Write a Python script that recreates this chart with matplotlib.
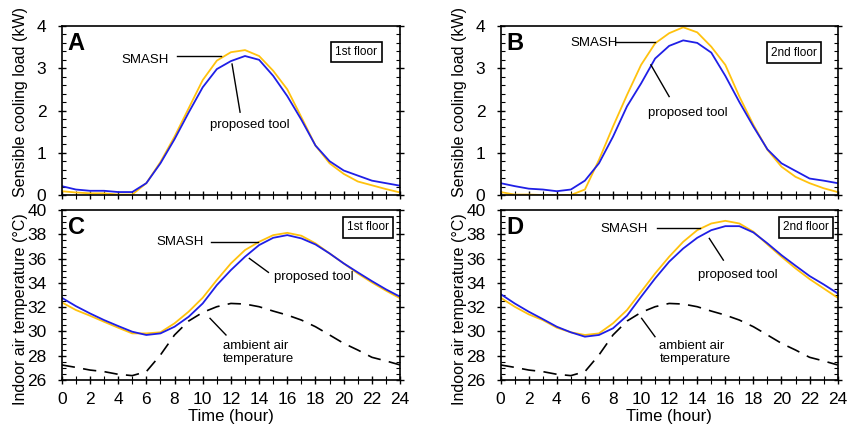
import numpy as np
import matplotlib
matplotlib.use('Agg')
from matplotlib import pyplot as plt
from matplotlib.ticker import MultipleLocator

plt.rcParams['font.family'] = ['Liberation Sans', 'DejaVu Sans']

#-----------------------------------
# Data
hours = np.arange(0, 25)

# Sensible cooling load (kW), 1st floor
load_1st_tool = [0.21, 0.13, 0.10, 0.10, 0.07, 0.07, 0.28, 0.75, 1.32, 1.95, 2.55, 2.98, 3.17,
                 3.29, 3.20, 2.82, 2.34, 1.78, 1.17, 0.80, 0.58, 0.46, 0.34, 0.28, 0.22]
load_1st_smash = [0.09, 0.06, 0.04, 0.04, 0.01, 0.01, 0.28, 0.78, 1.38, 2.05, 2.72, 3.18, 3.38,
                  3.43, 3.29, 2.94, 2.50, 1.84, 1.17, 0.75, 0.50, 0.32, 0.23, 0.14, 0.06]
# Sensible cooling load (kW), 2nd floor
load_2nd_tool = [0.28, 0.21, 0.15, 0.13, 0.09, 0.13, 0.34, 0.75, 1.38, 2.10, 2.64, 3.23, 3.53,
                 3.66, 3.60, 3.37, 2.82, 2.20, 1.62, 1.08, 0.75, 0.57, 0.39, 0.34, 0.28]
load_2nd_smash = [0.07, 0.01, 0.01, 0.00, 0.00, 0.00, 0.13, 0.83, 1.62, 2.37, 3.08, 3.59, 3.83,
                  3.97, 3.85, 3.51, 3.08, 2.33, 1.66, 1.07, 0.67, 0.43, 0.28, 0.16, 0.07]

# Indoor air temperature (C)
temp_1st_tool = [32.78, 32.09, 31.49, 30.94, 30.45, 29.98, 29.71, 29.84, 30.39, 31.21, 32.31,
                 33.82, 35.06, 36.16, 37.12, 37.72, 37.94, 37.67, 37.17, 36.43, 35.61, 34.87,
                 34.15, 33.47, 32.86]
temp_1st_smash = [32.40, 31.77, 31.30, 30.80, 30.31, 29.84, 29.84, 29.93, 30.67, 31.63, 32.78,
                  34.24, 35.61, 36.71, 37.39, 37.94, 38.13, 37.89, 37.26, 36.43, 35.61, 34.78,
                  34.04, 33.36, 32.73]
temp_2nd_tool = [33.08, 32.31, 31.63, 31.02, 30.39, 29.93, 29.57, 29.71, 30.26, 31.30, 32.86,
                 34.37, 35.75, 36.84, 37.72, 38.35, 38.68, 38.68, 38.16, 37.26, 36.29, 35.42,
                 34.57, 33.88, 33.14]
temp_2nd_smash = [32.78, 32.04, 31.41, 30.94, 30.31, 29.93, 29.71, 29.84, 30.67, 31.77, 33.27,
                  34.78, 36.16, 37.39, 38.35, 38.90, 39.12, 38.90, 38.22, 37.17, 36.16, 35.20,
                  34.32, 33.55, 32.78]
temp_ambient = [27.24, 27.04, 26.82, 26.69, 26.47, 26.36, 26.69, 28.06, 29.71, 30.86, 31.57,
                32.04, 32.31, 32.26, 32.04, 31.68, 31.35, 30.94, 30.39, 29.71, 29.02, 28.47,
                27.87, 27.57, 27.24]

BLUE = '#1f1fe6'
YELLOW = '#ffc20e'


def style_axis(ax, ylim, ymajor, yminor, show_xlabels):
    ax.set_xlim(0, 24)
    ax.set_ylim(*ylim)
    ax.xaxis.set_major_locator(MultipleLocator(2))
    ax.xaxis.set_minor_locator(MultipleLocator(1))
    ax.yaxis.set_major_locator(MultipleLocator(ymajor))
    ax.yaxis.set_minor_locator(MultipleLocator(yminor))
    ax.tick_params(which='major', direction='inout', length=6, width=1,
                   labelsize=12.5, right=True)
    ax.tick_params(which='minor', direction='in', length=3, width=0.8, right=True)
    ax.tick_params(axis='x', which='minor', direction='inout', length=6)
    ax.tick_params(axis='x', which='major', pad=6)
    ax.tick_params(axis='y', which='major', pad=8)
    if not show_xlabels:
        ax.tick_params(axis='x', labelbottom=False)
    for sp in ax.spines.values():
        sp.set_linewidth(1.2)


def floor_box(ax, text, x, y):
    ax.text(x, y, text, transform=ax.transAxes, ha='center', va='center', fontsize=8.5,
            bbox=dict(boxstyle='square,pad=0.35', fc='white', ec='black', lw=1.2))


def note(ax, text, xy_text, p0, p1, ha='left'):
    ax.text(xy_text[0], xy_text[1], text, ha=ha, va='center', fontsize=9.5, linespacing=1.15)
    ax.plot([p0[0], p1[0]], [p0[1], p1[1]], color='black', lw=1)


fig = plt.figure(figsize=(8.48, 4.30), dpi=100)
ax_a = fig.add_axes([0.0728, 0.5465, 0.399, 0.393])
ax_b = fig.add_axes([0.5904, 0.5465, 0.3974, 0.393])
ax_c = fig.add_axes([0.0728, 0.1163, 0.399, 0.395])
ax_d = fig.add_axes([0.5904, 0.1163, 0.3974, 0.395])

#-----------------------------------
# A: cooling load 1st floor
ax_a.plot(hours, load_1st_smash, color=YELLOW, lw=1.3)
ax_a.plot(hours, load_1st_tool, color=BLUE, lw=1.3)
style_axis(ax_a, (0, 4), 1, 0.2, False)
ax_a.set_ylabel('Sensible cooling load (kW)', fontsize=11.5)
note(ax_a, 'SMASH', (4.25, 3.20), (8.18, 3.30), (11.3, 3.30))
note(ax_a, 'proposed tool', (10.5, 1.66), (12.08, 3.10), (12.65, 1.96))
floor_box(ax_a, '1st floor', 0.871, 0.846)

# B: cooling load 2nd floor
ax_b.plot(hours, load_2nd_smash, color=YELLOW, lw=1.3)
ax_b.plot(hours, load_2nd_tool, color=BLUE, lw=1.3)
style_axis(ax_b, (0, 4), 1, 0.2, False)
ax_b.set_ylabel('Sensible cooling load (kW)', fontsize=11.5)
note(ax_b, 'SMASH', (4.94, 3.59), (8.19, 3.61), (10.99, 3.61))
note(ax_b, 'proposed tool', (10.51, 1.95), (10.7, 3.08), (12.0, 2.33))
floor_box(ax_b, '2nd floor', 0.870, 0.843)

# C: indoor temperature 1st floor
ax_c.plot(hours, temp_ambient, color='black', lw=1.2, dashes=(8, 5))
ax_c.plot(hours, temp_1st_smash, color=YELLOW, lw=1.3)
ax_c.plot(hours, temp_1st_tool, color=BLUE, lw=1.3)
style_axis(ax_c, (26, 40), 2, 0.5, True)
ax_c.set_ylabel('Indoor air temperature (\u00b0C)', fontsize=11.5)
ax_c.set_xlabel('Time (hour)', fontsize=12, labelpad=1)
note(ax_c, 'SMASH', (6.69, 37.39), (10.59, 37.39), (13.95, 37.39))
note(ax_c, 'proposed tool', (15.06, 34.51), (13.31, 36.02), (14.66, 34.87))
note(ax_c, 'ambient air\ntemperature', (11.42, 28.26), (10.52, 31.08), (11.65, 29.71))
floor_box(ax_c, '1st floor', 0.906, 0.898)

# D: indoor temperature 2nd floor
ax_d.plot(hours, temp_ambient, color='black', lw=1.2, dashes=(8, 5))
ax_d.plot(hours, temp_2nd_smash, color=YELLOW, lw=1.3)
ax_d.plot(hours, temp_2nd_tool, color=BLUE, lw=1.3)
style_axis(ax_d, (26, 40), 2, 0.5, True)
ax_d.set_ylabel('Indoor air temperature (\u00b0C)', fontsize=11.5)
ax_d.set_xlabel('Time (hour)', fontsize=12, labelpad=1)
note(ax_d, 'SMASH', (7.07, 38.41), (11.11, 38.49), (14.2, 38.49))
note(ax_d, 'proposed tool', (14.03, 34.65), (14.86, 37.67), (15.86, 35.88))
note(ax_d, 'ambient air\ntemperature', (11.3, 28.26), (10.04, 31.08), (10.99, 29.57))
floor_box(ax_d, '2nd floor', 0.905, 0.898)

# y labels sit at a fixed distance from the spine
for ax in [ax_a, ax_b]:
    ax.yaxis.set_label_coords(-0.10, 0.55)
for ax in [ax_c, ax_d]:
    ax.yaxis.set_label_coords(-0.10, 0.42)

# Panel letters
for ax, letter in zip([ax_a, ax_b, ax_c, ax_d], 'ABCD'):
    ax.text(0.018, 0.965, letter, transform=ax.transAxes, ha='left', va='top',
            fontsize=17, fontweight='bold')

fig.savefig('out.png', dpi=100)
